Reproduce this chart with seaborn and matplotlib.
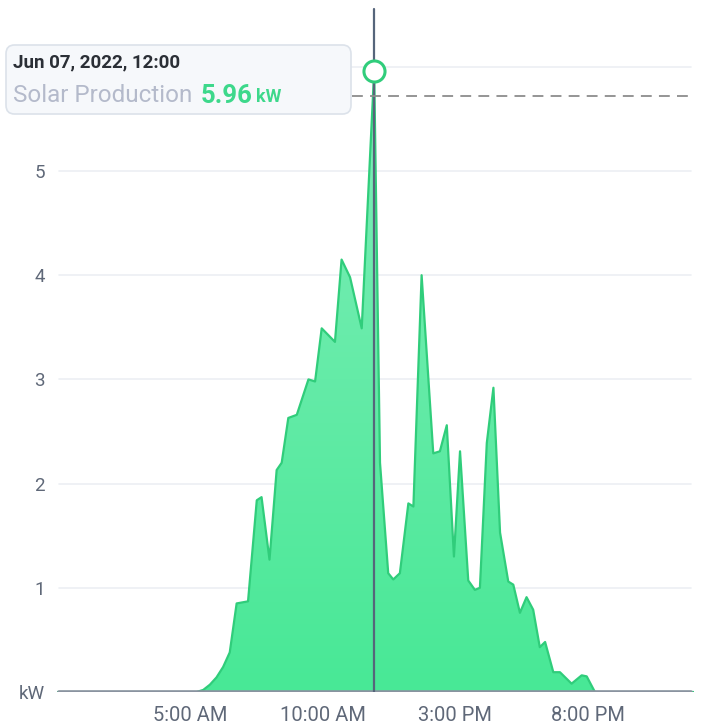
import numpy as np
import pandas as pd
import matplotlib
matplotlib.use("Agg")
import matplotlib.pyplot as plt
from matplotlib.patches import FancyBboxPatch
from matplotlib.colors import LinearSegmentedColormap
import seaborn as sns

# --- data (hour of day, kW) ---
hours = [0, 5.25, 5.5, 5.75, 6.0, 6.25, 6.5, 6.76, 7.19, 7.52, 7.7, 8.0, 8.27, 8.46,
         8.71, 9.03, 9.47, 9.72, 9.97, 10.47, 10.72, 11.04, 11.48, 11.95, 12.17,
         12.48, 12.67, 12.92, 13.24, 13.43, 13.74, 14.18, 14.43, 14.69, 14.96,
         15.19, 15.5, 15.75, 15.94, 16.2, 16.45, 16.7, 17.01, 17.2, 17.45, 17.7,
         17.95, 18.2, 18.4, 18.71, 18.96, 19.4, 19.78, 19.97, 20.28, 24]
kw = [0, 0, 0.02, 0.07, 0.14, 0.24, 0.38, 0.85, 0.87, 1.84, 1.87, 1.27, 2.13, 2.2,
      2.63, 2.66, 3.0, 2.98, 3.49, 3.36, 4.15, 3.98, 3.49, 5.96, 2.2,
      1.14, 1.08, 1.14, 1.81, 1.78, 4.0, 2.29, 2.31, 2.56, 1.3,
      2.31, 1.07, 0.98, 1.0, 2.39, 2.92, 1.53, 1.06, 1.03, 0.76, 0.91,
      0.79, 0.43, 0.48, 0.19, 0.19, 0.08, 0.16, 0.15, 0, 0]

x_ticks = [5, 10, 15, 20]
x_labels = ["5:00 AM", "10:00 AM", "3:00 PM", "8:00 PM"]
y_ticks = [0, 1, 2, 3, 4, 5, 6]
y_labels = ["kW", "1", "2", "3", "4", "5", ""]

sel_hour = 11.95
sel_value = 5.96
sel_stamp = "Jun 07, 2022, 12:00"
series_name = "Solar Production"

df = pd.DataFrame({"hour": hours, "kw": kw})

sns.set_style("white")
plt.rcParams["font.family"] = ["Roboto", "DejaVu Sans"]

fig = plt.figure(figsize=(7.03, 7.28), dpi=100)
ax = fig.add_axes([57.5 / 703, 36 / 728, 636 / 703, 692 / 728])
ymax = 692 / 104.2

# gradient area fill
poly = ax.fill_between(df["hour"], df["kw"], 0, color="none", linewidth=0)
cmap = LinearSegmentedColormap.from_list("g", ["#48e896", "#80eeb9"])
grad = np.linspace(0, 1, 256).reshape(-1, 1)
img = ax.imshow(grad, cmap=cmap, origin="lower", aspect="auto",
                extent=[0, 24, 0, 6.0], zorder=2)
img.set_clip_path(poly.get_paths()[0], transform=ax.transData)
sns.lineplot(data=df, x="hour", y="kw", ax=ax, color="#30cd7b", linewidth=1.6, zorder=3)

ax.set_xlim(0, 24)
ax.set_ylim(0, ymax)

ax.set_yticks(y_ticks)
ax.set_yticklabels(y_labels)
ax.set_xticks(x_ticks)
ax.set_xticklabels(x_labels)
ax.tick_params(axis="both", length=0, labelcolor="#5f6878")
ax.tick_params(axis="y", pad=9, labelsize=13.5)
ax.tick_params(axis="x", pad=10, labelsize=14.5)
ax.set_xlabel("")
ax.set_ylabel("")

for s in ax.spines.values():
    s.set_visible(False)

# horizontal grid
for v in y_ticks[1:]:
    ax.axhline(v, xmin=0.002, xmax=0.996, color="#eceff3", linewidth=1.2, zorder=1)
# baseline
ax.axhline(0, xmin=0.002, xmax=0.996, color="#8a93a0", linewidth=2.6, zorder=4)

# crosshair
ax.axvline(sel_hour, ymin=0, ymax=(692 - 9) / 692, color="#56657b", linewidth=1.6, zorder=5)
dash_y = (692 - 96) / 104.2
ax.plot([11.1, 23.9], [dash_y, dash_y], color="#8c8c8c", linewidth=1.3,
        linestyle=(0, (6, 4)), zorder=5)
ax.scatter([sel_hour], [(692 - 71) / 104.2], s=230, facecolor="white",
           edgecolor="#30cd7b", linewidth=2.2, zorder=6)

# tooltip
box = FancyBboxPatch((6 / 703, (728 - 114) / 728), 345 / 703, 69 / 728,
                     boxstyle="round,pad=0,rounding_size=0.012",
                     transform=fig.transFigure, facecolor="#f6f8fb",
                     edgecolor="#dce2ea", linewidth=1.2, zorder=5)
fig.patches.append(box)
fig.text(13 / 703, (728 - 62) / 728, sel_stamp, fontsize=13.5, fontweight="bold",
         color="#2b2f36", va="center", ha="left", zorder=6)
t1 = fig.text(13 / 703, (728 - 96) / 728, series_name, fontsize=17.5,
              color="#b4bacb", va="center", ha="left", zorder=6)
fig.canvas.draw()
bb = t1.get_window_extent()
t2 = fig.text((bb.x1 + 8) / 703, (728 - 96) / 728, f"{sel_value:.2f}", fontsize=18.5,
              fontweight="bold", color="#3dd88b", va="center", ha="left", zorder=6)
fig.canvas.draw()
bb2 = t2.get_window_extent()
fig.text((bb2.x1 + 4) / 703, (728 - 97) / 728, "kW", fontsize=13,
         fontweight="bold", color="#3dd88b", va="center", ha="left", zorder=6)

fig.savefig("out.png", dpi=100)
